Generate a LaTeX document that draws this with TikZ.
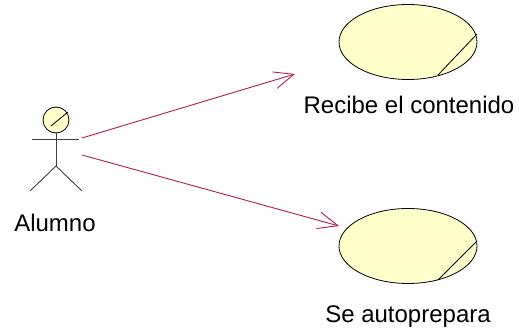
\documentclass[tikz,border=0pt]{standalone}
\usepackage{fontspec}
\setmainfont{Liberation Sans}
\usetikzlibrary{shapes.geometric,arrows.meta,positioning}
\definecolor{linkred}{RGB}{175,30,80}
\definecolor{ucyellow}{RGB}{255,255,204}
\tikzset{use case/.style={ellipse,fill=ucyellow,draw,line width=0.8pt,minimum width=138pt,minimum height=75pt,inner sep=0pt},}
\tikzset{actor line/.style={draw=black!75,line width=0.9pt},}
\tikzset{link/.style={draw=linkred,line width=0.9pt,-{Straight Barb[length=20pt,width=17pt,line width=0.9pt]}},}
\tikzset{label text/.style={font=\fontsize{24}{27}\selectfont,inner sep=0pt},}

\begin{document}
\begin{tikzpicture}[x=1pt,y=-1pt]
    \useasboundingbox (0,0) rectangle (519,336);
    % actor
    \node[circle,fill=ucyellow,draw,line width=0.8pt,minimum size=26pt,inner sep=0pt] (head) at (56,120) {};
    \draw[line width=0.8pt] (68,112) -- (51,126);
    \draw[actor line] (32,139) -- (79,139);
    \draw[actor line] (head.south) -- (56,166) coordinate (hip);
    \draw[actor line] (30,191) -- (hip) -- (82,191);
    \node[label text] (alumno) at (55,223) {Alumno};
    \coordinate (handA) at (82,138);
    \coordinate (handB) at (82,155);

    % use cases
    \node[use case] (recibe) at (408,42) {};
    \node[label text] (recibetxt) at (409,105) {Recibe el contenido};
    \node[use case] (prepara) at (408,246) {};
    \node[label text] (preparatxt) at (408,317) {Se autoprepara};
    \draw[line width=0.8pt] ([shift={(69pt,8pt)}]recibe.center) -- ([shift={(30pt,-33pt)}]recibe.center);
    \draw[line width=0.8pt] ([shift={(69pt,5pt)}]prepara.center) -- ([shift={(30pt,-34pt)}]prepara.center);

    \coordinate (tipA) at (295,74);
    \coordinate (tipB) at (339,226);
    \path[link] (handA) -- (tipA);
    \path[link] (handB) -- (tipB);
\end{tikzpicture}
\end{document}
